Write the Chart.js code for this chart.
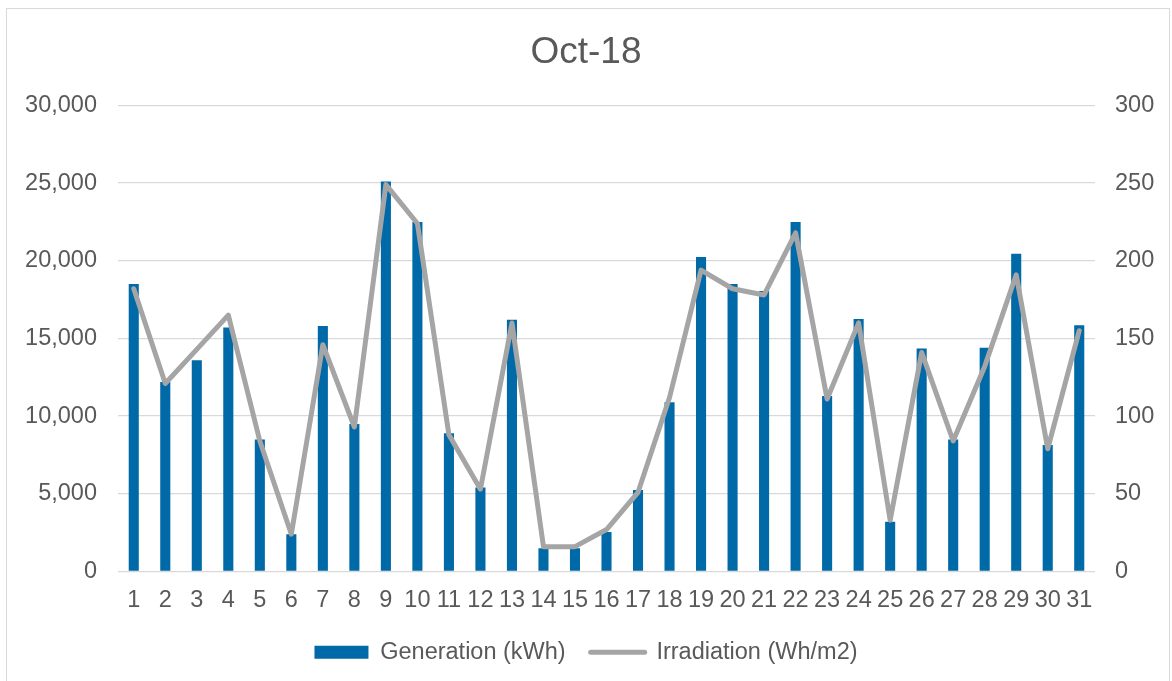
<!DOCTYPE html>
<html>
<head>
<meta charset="utf-8">
<script src="https://cdn.jsdelivr.net/npm/chart.js@4.4.1/dist/chart.umd.min.js"></script>
<style>
  html, body { margin: 0; padding: 0; background: #ffffff; }
  #wrap { position: relative; width: 1172px; height: 681px; overflow: hidden; }
  #frame { position: absolute; left: 6px; top: 8px; width: 1164px; height: 680px; border: 1px solid #d9d9d9; box-sizing: border-box; pointer-events: none; }
  canvas { position: absolute; left: 0; top: 0; }
</style>
</head>
<body>
<div id="wrap">
  <canvas id="c" width="1172" height="681"></canvas>
  <div id="frame"></div>
</div>
<script>
const chartTitle = 'Oct-18';
const days = ['1','2','3','4','5','6','7','8','9','10','11','12','13','14','15','16','17','18','19','20','21','22','23','24','25','26','27','28','29','30','31'];
const generationLabel = 'Generation (kWh)';
const irradiationLabel = 'Irradiation (Wh/m2)';
const generation = [18500, 12200, 13600, 15700, 8500, 2400, 15800, 9500, 25100, 22500, 8900, 5400, 16200, 1500, 1500, 2550, 5250, 10900, 20250, 18500, 18050, 22500, 11300, 16250, 3200, 14350, 8500, 14400, 20450, 8150, 15850];
const irradiation = [182, 121, 143, 165, 84, 24, 146, 93, 249, 224, 88, 53, 160, 16, 16, 27, 51, 112, 194, 182, 178, 218, 111, 160, 33, 141, 84, 132, 191, 79, 155];
const leftTicks = [0, 5000, 10000, 15000, 20000, 25000, 30000];
const rightTicks = [0, 50, 100, 150, 200, 250, 300];

const BLUE = '#0069A8';
const GRAY = '#A5A5A5';
const TEXT = '#595959';
const GRID = '#D9D9D9';
const FONT = "'Liberation Sans', Arial, sans-serif";

new Chart(document.getElementById('c'), {
  data: {
    labels: days,
    datasets: [
      {
        type: 'bar',
        label: generationLabel,
        data: generation,
        backgroundColor: BLUE,
        borderWidth: 0,
        yAxisID: 'y',
        order: 1,
        categoryPercentage: 1,
        barPercentage: 0.32
      },
      {
        type: 'line',
        label: irradiationLabel,
        data: irradiation,
        borderColor: GRAY,
        backgroundColor: GRAY,
        borderWidth: 5,
        pointRadius: 0,
        tension: 0,
        borderJoinStyle: 'round',
        borderCapStyle: 'round',
        yAxisID: 'y2',
        order: 0
      }
    ]
  },
  options: {
    responsive: false,
    animation: false,
    devicePixelRatio: 1,
    layout: { padding: { top: 9, left: 0, right: 0, bottom: 7 } },
    plugins: {
      title: {
        display: true,
        text: chartTitle,
        color: TEXT,
        font: { family: FONT, size: 37, weight: 'normal' },
        padding: { top: 22, bottom: 30 }
      },
      legend: {
        position: 'bottom',
        labels: {
          color: TEXT,
          font: { family: FONT, size: 23.5 },
          usePointStyle: true,
          pointStyleWidth: 54,
          boxHeight: 13,
          padding: 25,
          generateLabels: (chart) => chart.data.datasets.map((ds, i) => ({
            text: ds.label,
            fillStyle: ds.type === 'bar' ? ds.backgroundColor : ds.borderColor,
            strokeStyle: ds.type === 'bar' ? ds.backgroundColor : ds.borderColor,
            lineWidth: ds.type === 'bar' ? 0 : 5,
            lineCap: 'round',
            pointStyle: ds.type === 'bar' ? 'rect' : 'line',
            fontColor: TEXT,
            hidden: false,
            datasetIndex: i
          }))
        }
      },
      tooltip: { enabled: false }
    },
    scales: {
      x: {
        type: 'category',
        offset: true,
        grid: { display: false, drawTicks: false },
        border: { display: false },
        ticks: {
          color: TEXT,
          font: { family: FONT, size: 23.5 },
          maxRotation: 0,
          autoSkip: false,
          padding: 15
        },
        afterFit: (s) => { s.height = 44; }
      },
      y: {
        position: 'left',
        min: 0,
        max: 30000,
        afterBuildTicks: (s) => { s.ticks = leftTicks.map(v => ({ value: v })); },
        grid: { color: GRID, lineWidth: 1.3, drawTicks: false },
        border: { display: false },
        ticks: {
          color: TEXT,
          font: { family: FONT, size: 23.5 },
          padding: 21,
          callback: (v) => v.toLocaleString('en-US')
        },
        afterFit: (s) => { s.width = 118; }
      },
      y2: {
        position: 'right',
        min: 0,
        max: 300,
        afterBuildTicks: (s) => { s.ticks = rightTicks.map(v => ({ value: v })); },
        grid: { display: false, drawTicks: false },
        border: { display: false },
        ticks: {
          color: TEXT,
          font: { family: FONT, size: 23.5 },
          padding: 20
        },
        afterFit: (s) => { s.width = 77; }
      }
    }
  }
});
</script>
</body>
</html>
